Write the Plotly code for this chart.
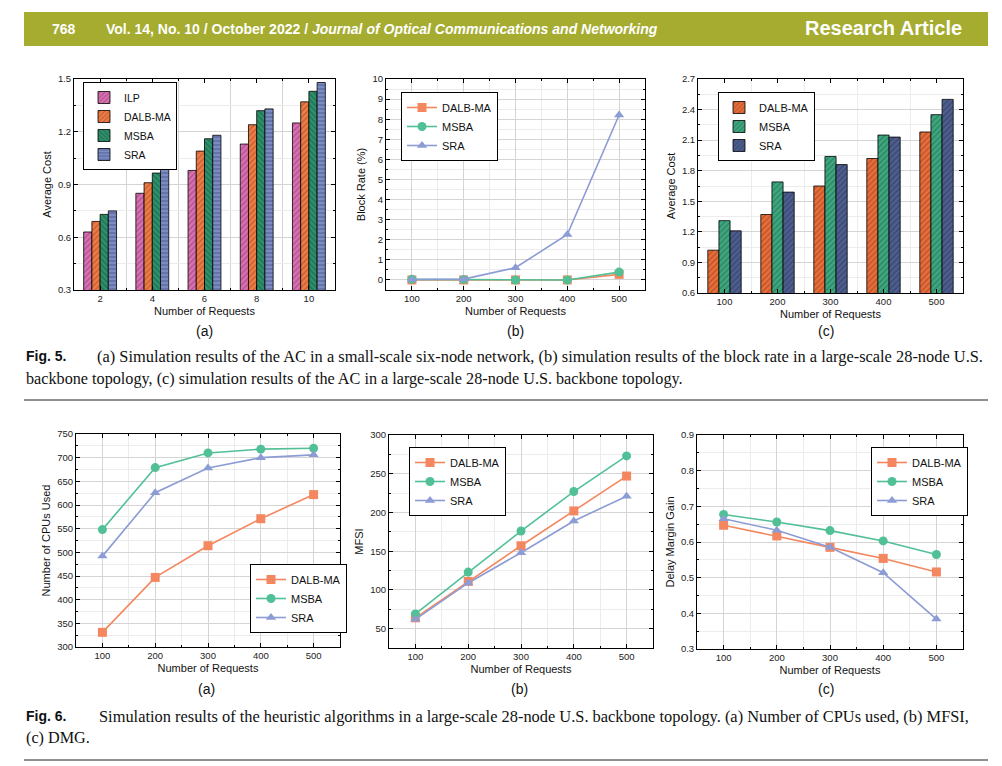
import plotly.graph_objects as go

W, H = 1002, 766

# ---------------- data ----------------
req_small = [2, 4, 6, 8, 10]
req_large = [100, 200, 300, 400, 500]

# Fig 5(a) average cost, six-node network
ac_small_ilp = [0.63, 0.85, 0.98, 1.13, 1.25]
ac_small_dalb = [0.69, 0.91, 1.09, 1.24, 1.37]
ac_small_msba = [0.73, 0.965, 1.16, 1.32, 1.43]
ac_small_sra = [0.75, 0.99, 1.18, 1.33, 1.48]

# Fig 5(b) block rate (%)
br_dalb = [0.0, 0.0, 0.0, 0.0, 0.28]
br_msba = [0.03, 0.02, 0.0, 0.0, 0.39]
br_sra = [0.02, 0.04, 0.61, 2.26, 8.21]

# Fig 5(c) average cost, 28-node network
ac_large_dalb = [1.02, 1.37, 1.65, 1.92, 2.18]
ac_large_msba = [1.31, 1.69, 1.94, 2.15, 2.35]
ac_large_sra = [1.21, 1.59, 1.86, 2.13, 2.50]

# Fig 6(a) number of CPUs used
cpu_dalb = [331, 447, 514, 571, 622]
cpu_msba = [548, 679, 710, 718, 720]
cpu_sra = [492, 626, 678, 700, 706]

# Fig 6(b) MFSI
mfsi_dalb = [64, 111, 157, 202, 247]
mfsi_msba = [69, 123, 176, 227, 273]
mfsi_sra = [62, 109, 148, 189, 221]

# Fig 6(c) delay margin gain
dmg_dalb = [0.647, 0.617, 0.585, 0.554, 0.516]
dmg_msba = [0.677, 0.656, 0.632, 0.603, 0.565]
dmg_sra = [0.665, 0.633, 0.585, 0.514, 0.384]

# ---------------- helpers ----------------
def px(x):
    return x / W

def py(y):
    return 1 - y / H

SANS = "Liberation Sans"
SERIF = "Liberation Serif"

C_LINE_DALB = "#F4875F"
C_LINE_MSBA = "#52C096"
C_LINE_SRA = "#8C9CD4"

fig = go.Figure()

def bar(x, y, name, color, fg, shape, xa, ya, legend):
    fig.add_trace(go.Bar(
        x=x, y=y, name=name, xaxis=xa, yaxis=ya, legend=legend,
        marker=dict(color=color, line=dict(color="black", width=0.8),
                    pattern=dict(shape=shape, fgcolor=fg, size=4, solidity=0.35)),
    ))

def line(x, y, name, color, symbol, xa, ya, legend):
    fig.add_trace(go.Scatter(
        x=x, y=y, name=name, xaxis=xa, yaxis=ya, legend=legend,
        mode="lines+markers",
        line=dict(color=color, width=1.6),
        marker=dict(color=color, symbol=symbol, size=9),
    ))

# Fig 5(a)
bar(req_small, ac_small_ilp, "ILP", "#D872B2", "#8A2E6A", "/", "x", "y", "legend")
bar(req_small, ac_small_dalb, "DALB-MA", "#EE7D48", "#9A3E16", "/", "x", "y", "legend")
bar(req_small, ac_small_msba, "MSBA", "#2F916B", "#0F4F36", "\\", "x", "y", "legend")
bar(req_small, ac_small_sra, "SRA", "#7B8CC2", "#3A4A7E", "-", "x", "y", "legend")

# Fig 5(b)
line(req_large, br_dalb, "DALB-MA", C_LINE_DALB, "square", "x2", "y2", "legend2")
line(req_large, br_msba, "MSBA", C_LINE_MSBA, "circle", "x2", "y2", "legend2")
line(req_large, br_sra, "SRA", C_LINE_SRA, "triangle-up", "x2", "y2", "legend2")

# Fig 5(c)
bar(req_large, ac_large_dalb, "DALB-MA", "#E86F3C", "#8E3512", "/", "x3", "y3", "legend3")
bar(req_large, ac_large_msba, "MSBA", "#3FA881", "#17603F", "/", "x3", "y3", "legend3")
bar(req_large, ac_large_sra, "SRA", "#4E5F8F", "#26314F", "/", "x3", "y3", "legend3")

# Fig 6(a)
line(req_large, cpu_dalb, "DALB-MA", C_LINE_DALB, "square", "x4", "y4", "legend4")
line(req_large, cpu_msba, "MSBA", C_LINE_MSBA, "circle", "x4", "y4", "legend4")
line(req_large, cpu_sra, "SRA", C_LINE_SRA, "triangle-up", "x4", "y4", "legend4")

# Fig 6(b)
line(req_large, mfsi_dalb, "DALB-MA", C_LINE_DALB, "square", "x5", "y5", "legend5")
line(req_large, mfsi_msba, "MSBA", C_LINE_MSBA, "circle", "x5", "y5", "legend5")
line(req_large, mfsi_sra, "SRA", C_LINE_SRA, "triangle-up", "x5", "y5", "legend5")

# Fig 6(c)
line(req_large, dmg_dalb, "DALB-MA", C_LINE_DALB, "square", "x6", "y6", "legend6")
line(req_large, dmg_msba, "MSBA", C_LINE_MSBA, "circle", "x6", "y6", "legend6")
line(req_large, dmg_sra, "SRA", C_LINE_SRA, "triangle-up", "x6", "y6", "legend6")

# ---------------- axes ----------------
def axis_style(title, standoff=4):
    return dict(
        showline=True, linecolor="black", linewidth=1, mirror="ticks",
        ticks="inside", ticklen=4, tickcolor="black", tickwidth=1,
        showgrid=True, gridcolor="#D4D4D4", gridwidth=1, zeroline=False,
        tickfont=dict(family=SANS, size=9.5, color="#222"),
        title=dict(text=title, font=dict(family=SANS, size=11, color="#111"), standoff=standoff),
        automargin=False,
    )

panels = [
    # (suffix, x0, x1, ytop, ybot)
    ("", 74, 335, 79, 290),
    ("2", 386, 645, 79, 290),
    ("3", 698, 963, 79, 293),
    ("4", 76, 340, 434, 647),
    ("5", 389, 653, 435, 648),
    ("6", 697, 963, 435, 649),
]
y_titles = ["Average Cost", "Block Rate (%)", "Average Cost",
            "Number of CPUs Used", "MFSI", "Delay Margin Gain"]
y_ranges = [[0.3, 1.5], [-0.5, 10], [0.6, 2.7], [300, 750], [25, 300], [0.3, 0.9]]
y_dticks = [0.3, 1, 0.3, 50, 50, 0.1]
x_ranges = [[1, 11], [50, 550], [50, 550], [50, 550], [50, 550], [50, 550]]

layout_axes = {}
for i, (suf, x0, x1, yt, yb) in enumerate(panels):
    xa = dict(axis_style("Number of Requests", 3))
    xa.update(domain=[px(x0), px(x1)], anchor="y" + suf, range=x_ranges[i])
    if i == 0:
        xa.update(tickvals=req_small, showgrid=False,
                  minor=dict(tickvals=[3, 5, 7, 9], ticks="inside", ticklen=2,
                             showgrid=True, gridcolor="#D4D4D4"))
    else:
        xa.update(tickvals=req_large,
                  showgrid=(i != 2),
                  minor=dict(tickvals=[50, 150, 250, 350, 450, 550], ticks="inside",
                             ticklen=2, showgrid=True, gridcolor="#ECECEC"))
    ya = dict(axis_style(y_titles[i], 4))
    ya.update(domain=[py(yb), py(yt)], anchor="x" + suf, range=y_ranges[i],
              dtick=y_dticks[i], tick0=0 if i in (1, 3, 4) else y_ranges[i][0],
              minor=dict(dtick=y_dticks[i] / 2, ticks="inside", ticklen=2,
                         showgrid=True, gridcolor="#ECECEC"))
    layout_axes["xaxis" + suf] = xa
    layout_axes["yaxis" + suf] = ya

fig.update_layout(**layout_axes)

# ---------------- legends ----------------
def legend_box(x, y, yanchor="top", size=11):
    return dict(
        x=px(x), y=py(y), xanchor="left", yanchor=yanchor,
        xref="paper", yref="paper",
        bgcolor="white", bordercolor="black", borderwidth=1,
        font=dict(family=SANS, size=size, color="#111"),
        itemwidth=30, tracegroupgap=0,
    )

fig.update_layout(
    legend=legend_box(83, 82, size=10.5),
    legend2=legend_box(401, 92),
    legend3=legend_box(718, 92),
    legend4=legend_box(250, 633, "bottom"),
    legend5=legend_box(409, 447),
    legend6=legend_box(871, 447),
)

# ---------------- page decorations ----------------
shapes = [
    dict(type="rect", xref="paper", yref="paper", x0=px(24), x1=px(988),
         y0=py(46), y1=py(12), fillcolor="#A5AC2F", line=dict(width=0), layer="below"),
    dict(type="line", xref="paper", yref="paper", x0=px(24), x1=px(988),
         y0=py(400), y1=py(400), line=dict(color="#222", width=1)),
    dict(type="line", xref="paper", yref="paper", x0=px(24), x1=px(988),
         y0=py(760), y1=py(760), line=dict(color="#222", width=1)),
]

def ann(text, x, y, size, family=SANS, color="#111", xanchor="left"):
    return dict(text=text, x=px(x), y=py(y), xref="paper", yref="paper",
                xanchor=xanchor, yanchor="middle", showarrow=False,
                font=dict(family=family, size=size, color=color))

annotations = [
    ann("<b>768</b>", 50, 29, 14, color="white"),
    ann("<b>Vol. 14, No. 10 / October 2022 / <i>Journal of Optical Communications and Networking</i></b>",
        104, 29, 14, color="white"),
    ann("<b>Research Article</b>", 964, 28, 20, color="white", xanchor="right"),
    ann("(a)", 204, 331, 14, xanchor="center"),
    ann("(b)", 515, 331, 14, xanchor="center"),
    ann("(c)", 826, 331, 14, xanchor="center"),
    ann("(a)", 206, 689, 14, xanchor="center"),
    ann("(b)", 519, 689, 14, xanchor="center"),
    ann("(c)", 826, 689, 14, xanchor="center"),
    ann("<b>Fig. 5.</b>", 24, 356, 14),
    ann("(a) Simulation results of the AC in a small-scale six-node network, (b) simulation results of the block rate in a large-scale 28-node U.S.",
        95, 356, 16.4, family=SERIF),
    ann("backbone topology, (c) simulation results of the AC in a large-scale 28-node U.S. backbone topology.",
        24, 379, 16.2, family=SERIF),
    ann("<b>Fig. 6.</b>", 24, 716, 14),
    ann("Simulation results of the heuristic algorithms in a large-scale 28-node U.S. backbone topology. (a) Number of CPUs used, (b) MFSI,",
        97, 716, 16.4, family=SERIF),
    ann("(c) DMG.", 24, 738, 16.2, family=SERIF),
]

fig.update_layout(
    width=W, height=H,
    margin=dict(l=0, r=0, t=0, b=0),
    paper_bgcolor="white", plot_bgcolor="white",
    barmode="group", bargap=0.37, bargroupgap=0,
    shapes=shapes, annotations=annotations,
    font=dict(family=SANS),
)

fig.write_html("out.html",
               config={"displayModeBar": False},
               post_script="document.body.style.margin='0';document.body.style.overflow='hidden';")
